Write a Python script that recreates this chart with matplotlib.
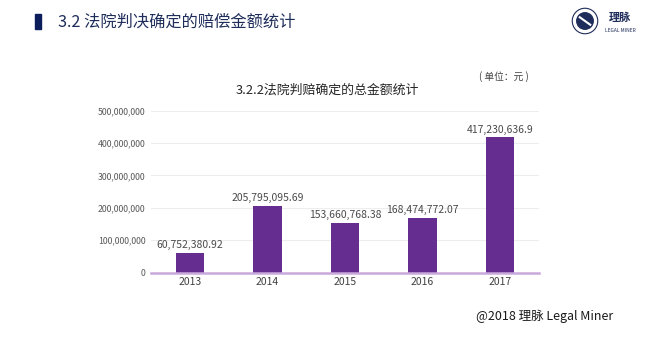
import matplotlib
matplotlib.use("Agg")
import matplotlib.pyplot as plt
from matplotlib.patches import Rectangle, Circle
from matplotlib.ticker import FuncFormatter

plt.rcParams['font.family'] = ['Noto Sans CJK SC', 'DejaVu Sans']

years = ["2013", "2014", "2015", "2016", "2017"]
amounts = [60752380.92, 205795095.69, 153660768.38, 168474772.07, 417230636.9]
amount_labels = ["60,752,380.92", "205,795,095.69", "153,660,768.38", "168,474,772.07", "417,230,636.9"]
yticks = [0, 100000000, 200000000, 300000000, 400000000, 500000000]

W, H = 656, 338
fig = plt.figure(figsize=(W / 100, H / 100), dpi=100)
fig.patch.set_facecolor("white")

ax = fig.add_axes([151.25 / W, 1 - 272.5 / H, 387.5 / W, (272.5 - 110.7) / H])
x = list(range(len(years)))
ax.bar(x, amounts, width=0.37, color="#652D90", zorder=3)
ax.set_xlim(-0.5, len(years) - 0.5)
ax.set_ylim(0, 500000000)
ax.set_yticks(yticks)
ax.yaxis.set_major_formatter(FuncFormatter(lambda v, p: f"{int(v):,}"))
ax.set_xticks(x)
ax.set_xticklabels(years)
ax.grid(axis="y", color="#EDEDED", linewidth=0.8, zorder=0)
for s in ["top", "right", "left"]:
    ax.spines[s].set_visible(False)
ax.spines["bottom"].set_color("#C9A8DB")
ax.spines["bottom"].set_linewidth(1.8)
ax.spines["bottom"].set_zorder(4)
ax.tick_params(axis="y", length=0, labelsize=6.3, labelcolor="#595959", pad=4)
ax.tick_params(axis="x", length=0, labelsize=7.5, labelcolor="#404040", pad=3)

for xi, v, lab in zip(x, amounts, amount_labels):
    ax.annotate(lab, (xi, v), xytext=(0, 2), textcoords="offset points",
                ha="center", va="bottom", fontsize=7.5, color="#4A4A4A")

# page title
fig.add_artist(Rectangle((35 / W, 1 - 29 / H), 6 / W, 15 / H, color="#0B1E5B",
                         transform=fig.transFigure))
fig.text(58 / W, 1 - 22 / H, "3.2 法院判决确定的赔偿金额统计", fontsize=11.7,
         color="#1F2D5A", ha="left", va="center")

# logo
logo_ax = fig.add_axes([570 / W, 1 - 36 / H, 30 / W, 30 / H])
logo_ax.set_xlim(-1, 1)
logo_ax.set_ylim(-1, 1)
logo_ax.set_aspect("equal")
logo_ax.axis("off")
logo_ax.add_patch(Circle((0, 0), 0.85, fill=False, ec="#1F2D5A", lw=0.8))
logo_ax.add_patch(Circle((0, 0), 0.55, color="#1F2D5A"))
logo_ax.plot([-0.35, 0.35], [0.25, -0.25], color="white", lw=1.5)
fig.text(620 / W, 1 - 17 / H, "理脉", fontsize=8, color="#1F2D5A", ha="center",
         va="center", fontweight="bold")
fig.text(620 / W, 1 - 30 / H, "LEGAL MINER", fontsize=3.5, color="#1F2D5A",
         ha="center", va="center")

# chart title and unit
fig.text(327 / W, 1 - 90 / H, "3.2.2法院判赔确定的总金额统计", fontsize=9.3,
         color="#262626", ha="center", va="center")
fig.text(504 / W, 1 - 77 / H, "( 单位：元 )", fontsize=7, color="#404040",
         ha="center", va="center")

# footer
fig.text(545 / W, 1 - 316 / H, "@2018 理脉 Legal Miner", fontsize=9,
         color="#1A1A1A", ha="center", va="center")

fig.savefig("out.png", dpi=100)
